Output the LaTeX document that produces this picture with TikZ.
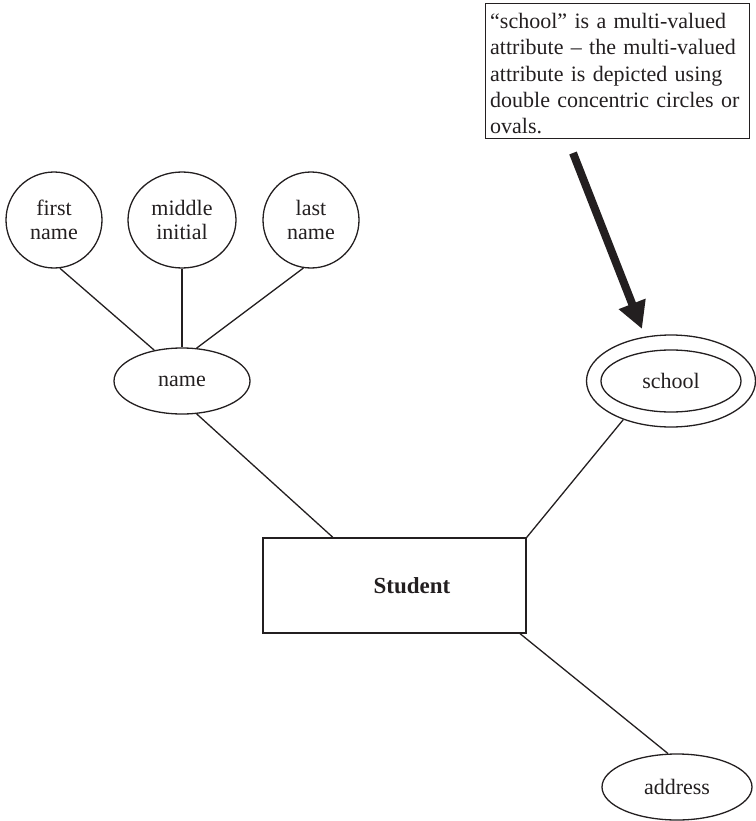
\documentclass[tikz,border=0pt]{standalone}
\usepackage{fontspec}
\setmainfont{Liberation Serif}
\usetikzlibrary{arrows.meta,shapes.geometric,calc}
\definecolor{ink}{HTML}{231F20}
\begin{document}
\begin{tikzpicture}[x=1pt,y=-1pt,
  every node/.style={text=ink},
  attr/.style={draw=ink, ellipse, line width=1.3pt, inner sep=0pt, align=center,
    font=\fontsize{22}{24}\selectfont},
  entity/.style={draw=ink, rectangle, line width=1.4pt, inner sep=0pt},
  entitylabel/.style={inner sep=0pt, font=\fontsize{23}{26}\selectfont\bfseries},
  link/.style={draw=ink, line width=1.3pt},
  notebox/.style={draw=ink, rectangle, line width=1.4pt, inner sep=0pt},
  notetext/.style={inner sep=0pt, align=left, text width=258pt,
    font=\fontsize{22}{26.3}\selectfont},
  pointer/.style={draw=ink, line width=8pt, -{Triangle[length=27pt,width=27pt]}}]
\useasboundingbox (0,0) rectangle (755,821);

% composite attribute "name" and its parts
\node[attr, minimum width=96pt, minimum height=96pt] (first) at (54,220) {first\\name};
\node[attr, minimum width=108pt, minimum height=96pt] (middle) at (182,220) {middle\\initial};
\node[attr, minimum width=96pt, minimum height=96pt] (last) at (311,220) {last\\name};
\node[attr, minimum width=136pt, minimum height=66pt] (name) at (182,381) {name};

% entity
\node[entity, minimum width=263pt, minimum height=95pt] (student) at (394.5,585.5) {};
\node[entitylabel] (studentlabel) at (412,586) {Student};

% multi-valued attribute: two concentric ovals
\node[attr, minimum width=169pt, minimum height=92pt] (school) at (671,381) {};
\node[attr, minimum width=140pt, minimum height=62pt] (schoolin) at (671,381) {school};

% simple attribute
\node[attr, minimum width=150pt, minimum height=66pt] (address) at (677,787) {address};

% note
\node[notebox, anchor=north west, minimum width=264pt, minimum height=135pt] (note) at (485,3) {};
\node[notetext, anchor=north west] (notebody) at (490,13)
  {``school'' is a multi-valued attribute -- the multi-valued attribute is depicted using double concentric circles or ovals.};

\coordinate (ptail) at (573,153);
\coordinate (phead) at (642,329);
\draw[pointer] (ptail) -- (phead);

% connectors
\draw[link] (first.-83) -- (name.132);
\draw[link] (middle.south) -- (name.north);
\draw[link] (last.-99.5) -- (name.66.6);
\draw[link] (name.-66) -- (student.142.5);
\draw[link] (school.219.3) -- (student.20.7);
\draw[link] (student.-21) -- (address.105);
\end{tikzpicture}
\end{document}
